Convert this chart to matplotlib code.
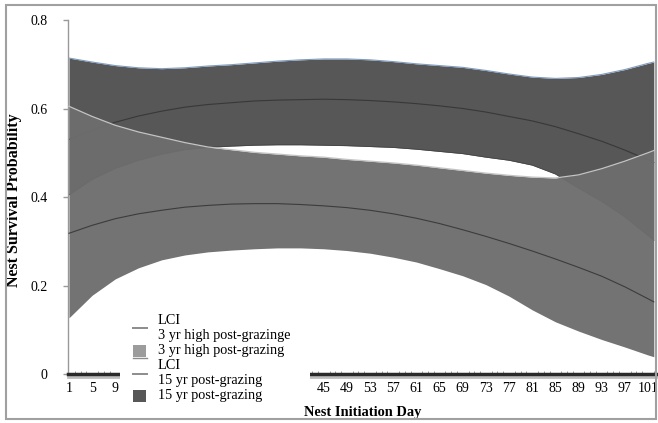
import matplotlib
matplotlib.use("Agg")
import matplotlib.pyplot as plt
import matplotlib.transforms as mtransforms
from matplotlib.patches import Rectangle
from matplotlib.lines import Line2D

# ---- data ----
days = [1, 5, 9, 13, 17, 21, 25, 29, 33, 37, 41, 45, 49, 53, 57, 61, 65, 69,
        73, 77, 81, 85, 89, 93, 97, 101, 102]

upper_15 = [0.714, 0.705, 0.697, 0.692, 0.690, 0.692, 0.696, 0.699, 0.703, 0.707,
            0.710, 0.712, 0.712, 0.710, 0.706, 0.701, 0.697, 0.693, 0.686, 0.678,
            0.671, 0.668, 0.670, 0.677, 0.688, 0.702, 0.705]
mean_15 = [0.530, 0.551, 0.569, 0.583, 0.594, 0.603, 0.609, 0.613, 0.617, 0.619,
           0.620, 0.621, 0.620, 0.618, 0.615, 0.611, 0.606, 0.600, 0.592, 0.582,
           0.572, 0.559, 0.543, 0.526, 0.506, 0.484, 0.478]
lower_15 = [0.405, 0.440, 0.465, 0.483, 0.497, 0.507, 0.512, 0.515, 0.517, 0.518,
            0.518, 0.517, 0.516, 0.514, 0.512, 0.508, 0.503, 0.498, 0.490, 0.483,
            0.472, 0.452, 0.420, 0.390, 0.355, 0.313, 0.302]

upper_3 = [0.605, 0.582, 0.562, 0.547, 0.535, 0.523, 0.513, 0.507, 0.501, 0.497,
           0.493, 0.490, 0.485, 0.481, 0.477, 0.472, 0.466, 0.460, 0.454, 0.449,
           0.445, 0.443, 0.450, 0.464, 0.481, 0.500, 0.505]
mean_3 = [0.318, 0.336, 0.351, 0.362, 0.370, 0.377, 0.381, 0.384, 0.385, 0.385,
          0.383, 0.380, 0.376, 0.370, 0.362, 0.352, 0.340, 0.326, 0.311, 0.295,
          0.278, 0.260, 0.241, 0.221, 0.197, 0.170, 0.163]
lower_3 = [0.127, 0.178, 0.215, 0.240, 0.258, 0.269, 0.276, 0.280, 0.283, 0.285,
           0.285, 0.283, 0.279, 0.273, 0.264, 0.253, 0.238, 0.222, 0.202, 0.176,
           0.145, 0.118, 0.097, 0.078, 0.061, 0.043, 0.039]

x_ticks = list(range(1, 102, 4))
y_ticks = [0, 0.2, 0.4, 0.6, 0.8]
y_ticklabels = ["0", "0.2", "0.4", "0.6", "0.8"]

legend_rows = ["LCI", "3 yr high post-grazinge", "3 yr high post-grazing",
               "LCI", "15 yr post-grazing", "15 yr post-grazing"]

# ---- figure ----
plt.rcParams['font.family'] = ['Liberation Serif', 'DejaVu Serif']
W, H = 658, 423
fig = plt.figure(figsize=(W / 100, H / 100), dpi=100)
ax = fig.add_axes([68 / W, (H - 374) / H, (656 - 68) / W, (374 - 20) / H])

dark = '#575757'
mid = '#6d6d6d'

# 15 yr band
ax.fill_between(days, lower_15, upper_15, color=dark, lw=0, zorder=1)
ax.plot(days, upper_15, color='#7f9cc0', lw=0.8, zorder=2)
ax.plot(days, lower_15, color='#444444', lw=0.6, zorder=2)
ax.plot(days, mean_15, color='#383838', lw=0.8, zorder=2)

# 3 yr band (on top, slightly transparent)
ax.fill_between(days, lower_3, upper_3, color=mid, alpha=0.96, lw=0, zorder=3)
ax.plot(days, upper_3, color='#c4c4c4', lw=0.9, zorder=4)
ax.plot(days, mean_3, color='#3c3c3c', lw=0.8, zorder=4)

ax.set_xlim(0.83, 102.38)
ax.set_ylim(0, 0.8)

ax.spines['top'].set_visible(False)
ax.spines['right'].set_visible(False)
ax.spines['left'].set_color('#999999')
ax.spines['left'].set_linewidth(1.0)
ax.spines['bottom'].set_color('#2a2a2a')
ax.spines['bottom'].set_linewidth(2.5)
ax.spines['bottom'].set_zorder(6)

# shadow under x axis
shadow = mtransforms.offset_copy(ax.transData, fig=fig, x=0, y=-2.5, units='dots')
ax.plot([0.83, 102.38], [0, 0], color='#bdbdbd', lw=2.0, transform=shadow,
        clip_on=False, zorder=5)

ax.set_xticks(x_ticks)
ax.set_xticklabels([str(v) for v in x_ticks])
ax.set_xticks(range(1, 103), minor=True)
ax.tick_params(axis='x', which='major', length=0, pad=5.5, labelsize=10)
ax.tick_params(axis='x', which='minor', length=2.5, width=0.6, color='#8a8a8a',
               direction='in')
# tick labels hidden behind the legend box in the reference
for v, lab in zip(x_ticks, ax.get_xticklabels()):
    if 12 < v < 42:
        lab.set_visible(False)

ax.set_yticks(y_ticks)
ax.set_yticklabels(y_ticklabels)
ax.tick_params(axis='y', which='major', length=3.6, width=1.0, color='#999999',
               direction='out', pad=11, labelsize=10)

ax.set_xlabel('Nest Initiation Day', fontsize=10.4, fontweight='bold')
ax.xaxis.label.set_va('center')
ax.xaxis.set_label_coords((363 - 68) / 588, (374 - 412) / 354)
ax.set_ylabel('Nest Survival Probability', fontsize=11.5, fontweight='bold')
ax.yaxis.label.set_va('center')
ax.yaxis.set_label_coords((14 - 68) / 588, (374 - 200) / 354)

# ---- legend (manual, to reproduce its layout) ----
def fx(px):
    return px / W

def fy(py):
    return 1 - py / H

fig.patches.append(Rectangle((fx(120), fy(406)), (310 - 120) / W, (406 - 309) / H,
                             transform=fig.transFigure, facecolor='white',
                             edgecolor='none', zorder=10))
baselines = [323.5, 338.5, 353.5, 368.5, 383.5, 398.5]
for txt, b in zip(legend_rows, baselines):
    fig.text(fx(158), fy(b), txt, fontsize=10.3, va='baseline', ha='left', zorder=12)

for py, lw in [(328, 1.4), (358, 1.0), (374, 1.4)]:
    fig.lines.append(Line2D([fx(133), fx(147)], [fy(py), fy(py)],
                            transform=fig.transFigure, color='#8c8c8c', lw=lw, zorder=12))
fig.patches.append(Rectangle((fx(133), fy(357)), 13 / W, 12 / H, transform=fig.transFigure,
                             facecolor='#9c9c9c', edgecolor='none', zorder=12))
fig.patches.append(Rectangle((fx(133), fy(402)), 13 / W, 12 / H, transform=fig.transFigure,
                             facecolor=dark, edgecolor='none', zorder=12))

# outer border
fig.patches.append(Rectangle((fx(6), fy(419)), (656 - 6) / W, (419 - 5) / H,
                             transform=fig.transFigure, facecolor='none',
                             edgecolor='#a0a0a0', lw=1.5, zorder=20))

fig.savefig('out.png', dpi=100)
